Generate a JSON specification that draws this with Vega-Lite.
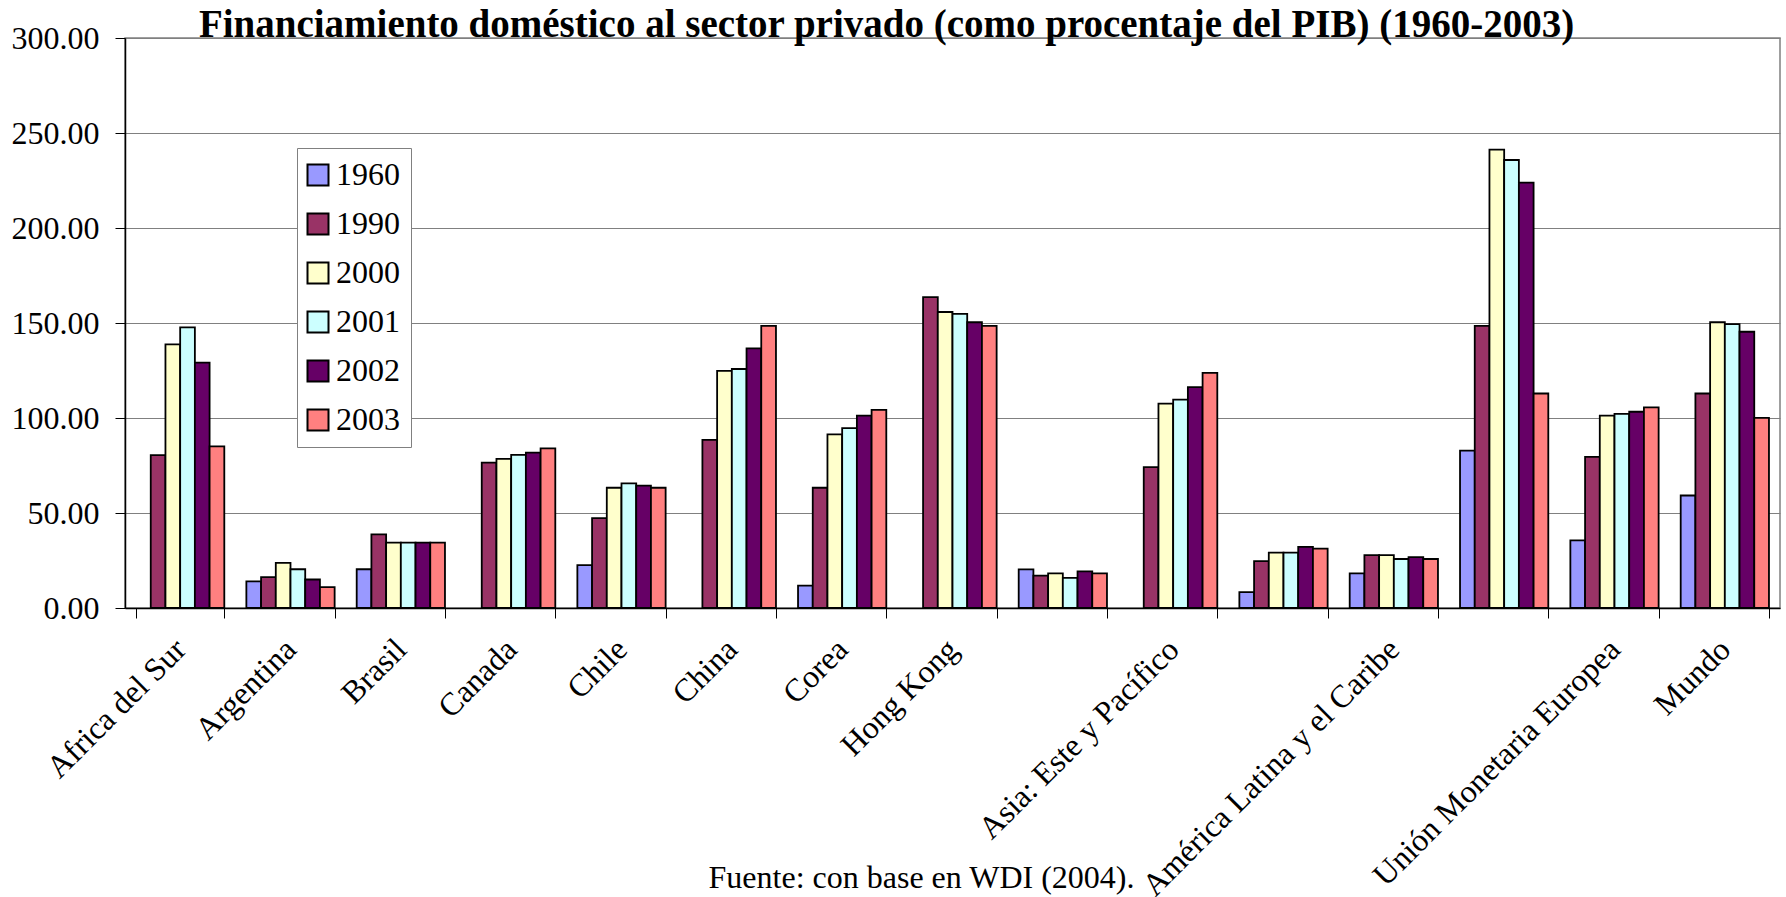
{
  "$schema": "https://vega.github.io/schema/vega-lite/v6.json",
  "width": 1655,
  "height": 570,
  "autosize": "none",
  "padding": {"left": 125, "top": 38, "right": 6, "bottom": 289},
  "background": "white",
  "title": {
    "text": "Financiamiento doméstico al sector privado (como procentaje del PIB) (1960-2003)",
    "font": "Liberation Serif",
    "fontSize": 39,
    "fontWeight": "bold",
    "color": "black",
    "baseline": "alphabetic",
    "offset": 1,
    "dx": -66,
    "dy": 55,
    "anchor": "middle",
    "frame": "group"
  },
  "data": {
    "values": [
      {"pais": "Africa del Sur", "anio": "1990", "valor": 80.5},
      {"pais": "Africa del Sur", "anio": "2000", "valor": 138.8},
      {"pais": "Africa del Sur", "anio": "2001", "valor": 147.7},
      {"pais": "Africa del Sur", "anio": "2002", "valor": 129.1},
      {"pais": "Africa del Sur", "anio": "2003", "valor": 85.1},
      {"pais": "Argentina", "anio": "1960", "valor": 14.0},
      {"pais": "Argentina", "anio": "1990", "valor": 16.2},
      {"pais": "Argentina", "anio": "2000", "valor": 23.7},
      {"pais": "Argentina", "anio": "2001", "valor": 20.4},
      {"pais": "Argentina", "anio": "2002", "valor": 15.0},
      {"pais": "Argentina", "anio": "2003", "valor": 11.0},
      {"pais": "Brasil", "anio": "1960", "valor": 20.4},
      {"pais": "Brasil", "anio": "1990", "valor": 38.7},
      {"pais": "Brasil", "anio": "2000", "valor": 34.4},
      {"pais": "Brasil", "anio": "2001", "valor": 34.4},
      {"pais": "Brasil", "anio": "2002", "valor": 34.4},
      {"pais": "Brasil", "anio": "2003", "valor": 34.4},
      {"pais": "Canada", "anio": "1990", "valor": 76.5},
      {"pais": "Canada", "anio": "2000", "valor": 78.5},
      {"pais": "Canada", "anio": "2001", "valor": 80.6},
      {"pais": "Canada", "anio": "2002", "valor": 81.8},
      {"pais": "Canada", "anio": "2003", "valor": 84.0},
      {"pais": "Chile", "anio": "1960", "valor": 22.6},
      {"pais": "Chile", "anio": "1990", "valor": 47.3},
      {"pais": "Chile", "anio": "2000", "valor": 63.3},
      {"pais": "Chile", "anio": "2001", "valor": 65.6},
      {"pais": "Chile", "anio": "2002", "valor": 64.4},
      {"pais": "Chile", "anio": "2003", "valor": 63.3},
      {"pais": "China", "anio": "1990", "valor": 88.5},
      {"pais": "China", "anio": "2000", "valor": 124.8},
      {"pais": "China", "anio": "2001", "valor": 125.8},
      {"pais": "China", "anio": "2002", "valor": 136.6},
      {"pais": "China", "anio": "2003", "valor": 148.5},
      {"pais": "Corea", "anio": "1960", "valor": 11.8},
      {"pais": "Corea", "anio": "1990", "valor": 63.3},
      {"pais": "Corea", "anio": "2000", "valor": 91.4},
      {"pais": "Corea", "anio": "2001", "valor": 94.7},
      {"pais": "Corea", "anio": "2002", "valor": 101.2},
      {"pais": "Corea", "anio": "2003", "valor": 104.3},
      {"pais": "Hong Kong", "anio": "1990", "valor": 163.6},
      {"pais": "Hong Kong", "anio": "2000", "valor": 155.8},
      {"pais": "Hong Kong", "anio": "2001", "valor": 154.8},
      {"pais": "Hong Kong", "anio": "2002", "valor": 150.4},
      {"pais": "Hong Kong", "anio": "2003", "valor": 148.5},
      {"pais": "México", "anio": "1960", "valor": 20.3},
      {"pais": "México", "anio": "1990", "valor": 17.0},
      {"pais": "México", "anio": "2000", "valor": 18.2},
      {"pais": "México", "anio": "2001", "valor": 15.9},
      {"pais": "México", "anio": "2002", "valor": 19.3},
      {"pais": "México", "anio": "2003", "valor": 18.2},
      {"pais": "Asia: Este y Pacífico", "anio": "1990", "valor": 74.1},
      {"pais": "Asia: Este y Pacífico", "anio": "2000", "valor": 107.6},
      {"pais": "Asia: Este y Pacífico", "anio": "2001", "valor": 109.7},
      {"pais": "Asia: Este y Pacífico", "anio": "2002", "valor": 116.2},
      {"pais": "Asia: Este y Pacífico", "anio": "2003", "valor": 123.7},
      {"pais": "Asia del Sur", "anio": "1960", "valor": 8.4},
      {"pais": "Asia del Sur", "anio": "1990", "valor": 24.7},
      {"pais": "Asia del Sur", "anio": "2000", "valor": 29.1},
      {"pais": "Asia del Sur", "anio": "2001", "valor": 29.1},
      {"pais": "Asia del Sur", "anio": "2002", "valor": 32.2},
      {"pais": "Asia del Sur", "anio": "2003", "valor": 31.2},
      {"pais": "América Latina y el Caribe", "anio": "1960", "valor": 18.2},
      {"pais": "América Latina y el Caribe", "anio": "1990", "valor": 27.8},
      {"pais": "América Latina y el Caribe", "anio": "2000", "valor": 27.8},
      {"pais": "América Latina y el Caribe", "anio": "2001", "valor": 25.8},
      {"pais": "América Latina y el Caribe", "anio": "2002", "valor": 26.8},
      {"pais": "América Latina y el Caribe", "anio": "2003", "valor": 25.8},
      {"pais": "Estados Unidos", "anio": "1960", "valor": 82.8},
      {"pais": "Estados Unidos", "anio": "1990", "valor": 148.5},
      {"pais": "Estados Unidos", "anio": "2000", "valor": 241.2},
      {"pais": "Estados Unidos", "anio": "2001", "valor": 235.8},
      {"pais": "Estados Unidos", "anio": "2002", "valor": 223.9},
      {"pais": "Estados Unidos", "anio": "2003", "valor": 112.9},
      {"pais": "Unión Monetaria Europea", "anio": "1960", "valor": 35.6},
      {"pais": "Unión Monetaria Europea", "anio": "1990", "valor": 79.5},
      {"pais": "Unión Monetaria Europea", "anio": "2000", "valor": 101.2},
      {"pais": "Unión Monetaria Europea", "anio": "2001", "valor": 102.2},
      {"pais": "Unión Monetaria Europea", "anio": "2002", "valor": 103.3},
      {"pais": "Unión Monetaria Europea", "anio": "2003", "valor": 105.6},
      {"pais": "Mundo", "anio": "1960", "valor": 59.2},
      {"pais": "Mundo", "anio": "1990", "valor": 112.9},
      {"pais": "Mundo", "anio": "2000", "valor": 150.4},
      {"pais": "Mundo", "anio": "2001", "valor": 149.4},
      {"pais": "Mundo", "anio": "2002", "valor": 145.4},
      {"pais": "Mundo", "anio": "2003", "valor": 100.1}
    ]
  },
  "mark": {"type": "bar", "stroke": "black", "strokeWidth": 1.8},
  "encoding": {
    "x": {
      "field": "pais",
      "type": "nominal",
      "sort": null,
      "scale": {"paddingInner": 0.2, "paddingOuter": 0.1},
      "axis": {
        "title": "Fuente: con base en WDI (2004).",
        "titleFont": "Liberation Serif",
        "titleFontSize": 32,
        "titleFontWeight": "normal",
        "titleColor": "black",
        "titleX": 796,
        "titleY": 279,
        "titleBaseline": "alphabetic",
        "titleAlign": "center",
        "labelAngle": -45,
        "labelAlign": "right",
        "labelBaseline": "middle",
        "labelPadding": 26,
        "labelDx": -8,
        "labelFont": "Liberation Serif",
        "labelFontSize": 32,
        "labelColor": "black",
        "labelLimit": 1000,
        "labelOverlap": false,
        "labelExpr": "indexof(['México','Asia del Sur','Estados Unidos'], datum.value) >= 0 ? '' : datum.value",
        "tickSize": 10,
        "tickBand": "extent",
        "tickColor": "black",
        "domainColor": "black",
        "domainWidth": 1.5,
        "grid": false
      }
    },
    "xOffset": {
      "field": "anio",
      "type": "nominal",
      "scale": {"domain": ["1960", "1990", "2000", "2001", "2002", "2003"], "paddingInner": 0, "paddingOuter": 0}
    },
    "y": {
      "field": "valor",
      "type": "quantitative",
      "scale": {"domain": [0, 300], "nice": false},
      "axis": {
        "title": null,
        "values": [0, 50, 100, 150, 200, 250, 300],
        "format": ".2f",
        "labelFont": "Liberation Serif",
        "labelFontSize": 32,
        "labelColor": "black",
        "labelPadding": 16,
        "tickSize": 10,
        "tickColor": "black",
        "domainColor": "black",
        "domainWidth": 1.5,
        "gridColor": "#808080",
        "gridWidth": 1.2,
        "gridOpacity": 1
      }
    },
    "fill": {
      "field": "anio",
      "type": "nominal",
      "scale": {
        "domain": ["1960", "1990", "2000", "2001", "2002", "2003"],
        "range": ["#9999FF", "#993366", "#FFFFCC", "#CCFFFF", "#660066", "#FF8080"]
      },
      "legend": {
        "title": null,
        "orient": "none",
        "legendX": 172,
        "legendY": 110,
        "direction": "vertical",
        "padding": 11,
        "rowPadding": 17,
        "strokeColor": "#808080",
        "fillColor": "white",
        "symbolType": "square",
        "symbolSize": 441,
        "symbolOffset": -6,
        "symbolStrokeColor": "black",
        "symbolStrokeWidth": 2,
        "symbolOpacity": 1,
        "labelFont": "Liberation Serif",
        "labelFontSize": 32,
        "labelColor": "black",
        "labelOffset": 2
      }
    }
  },
  "config": {
    "font": "Liberation Serif",
    "axis": {"labelFont": "Liberation Serif", "titleFont": "Liberation Serif"},
    "legend": {"labelFont": "Liberation Serif"},
    "view": {"stroke": "#808080", "strokeWidth": 1.5}
  }
}
